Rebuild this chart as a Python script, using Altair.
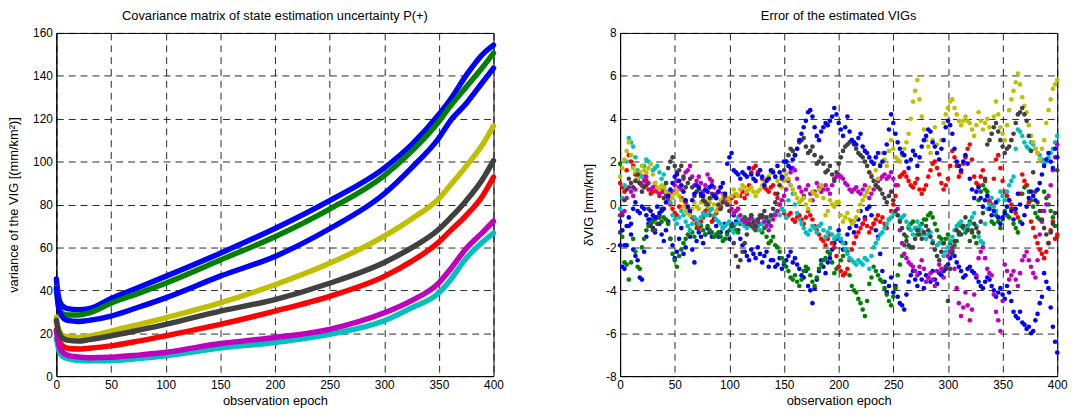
import altair as alt
import pandas as pd

FONT = "Liberation Sans"
SERIES = ["s1", "s2", "s3", "s4", "s5", "s6", "s7", "s8"]
COLORS = ["#0000FF", "#008000", "#FF0000", "#00BFBF", "#BF00BF", "#BFBF00", "#404040", "#0000FF"]

# ---------------- left panel: variance curves ----------------
var_epochs = [0, 1, 2, 5, 10, 20, 30, 50, 75, 100, 150, 200, 250, 300, 325, 350, 360, 375, 390, 400]
var_blue_top = [45.3, 40.5, 37, 33, 31.5, 31, 31.5, 36.2, 41.3, 46.5, 57.3, 68.8, 81.8, 97, 107.9, 122, 128.6, 140.2, 150, 154.3]
var_green = [41.5, 37, 33, 29.5, 28.5, 28.5, 29.5, 34, 38.6, 43.3, 54.1, 65, 77.9, 93.5, 104.8, 118.7, 125.6, 134.8, 144, 150.6]
var_blue_low = [41, 36, 32, 28, 26, 25.5, 26, 28, 32.1, 36.5, 46.6, 55.8, 68.7, 85, 97.1, 111, 118.7, 127.1, 137, 143.6]
var_yellow = [27.5, 24, 22, 19.5, 18.2, 18, 18.6, 21, 24, 27.2, 34.1, 42.6, 52.6, 65.3, 73.3, 82.8, 88.7, 97.9, 108, 116.7]
var_gray = [26, 23, 21, 18, 16.8, 16.3, 17, 18.8, 21.4, 24.1, 30.3, 35.7, 43.3, 53, 59.8, 68.5, 73.5, 81.8, 91.8, 100.5]
var_red = [21.5, 19, 17, 14.5, 13, 12.6, 13, 14.1, 16.3, 18.8, 24.1, 30.3, 37.2, 46.5, 53.5, 62.5, 67.5, 74.9, 84, 92.8]
var_magenta = [21, 18, 15, 11.5, 9.8, 8.9, 8.6, 8.8, 9.8, 11.1, 15.2, 18, 21.8, 29.5, 35.2, 43.5, 49.5, 59.5, 67, 72.2]
var_cyan = [17.5, 15, 12.5, 9.5, 8.2, 7.3, 7.1, 7.2, 8.2, 9.5, 13.1, 15.7, 19.5, 25.8, 31.8, 38.8, 44.5, 54.9, 62.5, 66.7]

var_series = {
    "s1": var_blue_top, "s2": var_green, "s3": var_red, "s4": var_cyan,
    "s5": var_magenta, "s6": var_yellow, "s7": var_gray, "s8": var_blue_low,
}

# ---------------- right panel: errors ----------------
# values at epochs 0, 4, 8, ..., 400
err_epochs = list(range(0, 401, 4))
# values at epochs 2, 6, 10, ..., 398
err_epochs_mid = list(range(2, 399, 4))

err_blue_a = [-1.9, -3.0, -1.0, -2.1, -2.6, -3.5, -1.5, -0.7, -1.3, -0.9,
              -1.7, -0.8, -1.9, -2.2, -1.1, -2.0, -1.5, -2.7, -1.3, -1.8,
              -1.1, -1.5, -1.0, -1.3, -0.9, -1.6, -0.5, -1.2, -1.9, -2.4,
              -2.1, -2.5, -2.3, -2.4, -2.9, -2.6, -2.8, -3.0, -2.6, -2.2,
              -2.5, -3.0, -3.4, -3.8, -4.6, -3.5, -2.6, -3.2, -2.5, -1.8,
              -1.2, -2.1, -1.4, -0.8, -1.0, -0.3, -0.6, -0.1, -0.9, -1.5,
              -3.1, -4.1, -3.4, -3.8, -4.6, -4.9, -3.6, -3.1, -3.8, -3.5,
              -3.3, -3.6, -3.5, -3.2, -3.1, -2.8, -2.2, -2.7, -3.1, -3.3,
              -2.9, -3.2, -3.6, -3.9, -3.4, -3.8, -4.3, -3.9, -4.4, -4.1,
              -5.0, -5.3, -5.5, -5.8, -6.0, -5.4, -4.6, -3.2, -3.9, -5.7,
              -6.9]
err_blue_a_mid = [-2.9, -1.9, -1.4, -2.4, -3.4, -2.2, -0.9, -1.1, -0.6, -1.4,
                  -1.2, -1.6, -2.5, -1.6, -2.3, -1.0, -2.1, -1.7, -1.5, -1.4,
                  -1.3, -0.7, -1.5, -1.1, -1.3, -0.9, -0.8, -1.6, -2.2, -2.6,
                  -2.3, -2.0, -2.7, -2.2, -2.6, -2.9, -2.5, -2.8, -2.4, -2.7,
                  -2.8, -3.3, -3.1, -4.0, -3.9, -3.1, -2.9, -2.7, -2.1, -1.6,
                  -1.7, -1.8, -1.1, -1.3, -0.7, -0.9, -0.2, -0.5, -1.2, -2.3,
                  -3.6, -3.8, -4.1, -4.3, -4.7, -4.2, -3.3, -3.5, -3.2, -3.9,
                  -3.4, -3.1, -3.7, -3.3, -3.0, -2.5, -2.4, -2.9, -3.4, -3.0,
                  -3.1, -3.4, -3.8, -3.6, -3.5, -4.0, -4.1, -4.2, -3.8, -4.5,
                  -5.2, -5.0, -5.6, -5.7, -5.9, -5.1, -4.3, -3.6, -4.8, -6.4]
err_blue_b = [-0.8, -1.9, -0.6, -0.2, -0.3, -0.1, -0.5, -0.3, -0.6, -0.4,
              -0.2, 0.4, 1.0, 1.4, 0.9, 0.2, -0.3, 0.5, 0.8, 0.4,
              0.6, 0.9, 0.3, 0.8, 0.5, 2.2, 1.6, 1.4, 1.5, 1.3,
              1.4, 1.1, 1.6, 0.9, 1.2, 1.5, 1.8, 1.3, 2.0, 1.7,
              2.3, 3.0, 3.6, 4.3, 4.1, 3.2, 3.4, 3.8, 3.9, 4.5,
              3.8, 3.2, 4.1, 3.0, 2.8, 3.3, 2.5, 2.2, 1.9, 2.4,
              2.0, 2.8, 4.2, 3.3, 2.6, 2.3, 1.7, 2.5, 1.8, 2.7,
              3.2, 3.4, 2.7, 2.1, 3.0, 3.9, 3.3, 2.0, 1.6, 2.3,
              1.2, 0.3, 0.8, -0.1, 0.4, -0.5, 0.1, -0.9, -0.4, 0.2,
              -0.7, 0.5, -0.9, -0.1, 0.6, 0.2, 1.0, 1.8, 2.4, 1.7,
              2.2]
err_blue_b_mid = [-1.2, -1.0, -0.9, 0.1, -0.4, -0.2, -0.7, -0.5, -0.1, -0.3,
                  0.1, 0.7, 1.3, 1.1, 0.6, -0.1, 0.2, 0.9, 0.5, 0.7,
                  0.8, 0.4, 0.6, 1.0, 1.9, 2.4, 1.5, 1.2, 1.4, 1.7,
                  1.2, 1.4, 1.3, 1.1, 1.6, 1.3, 1.5, 2.0, 1.8, 2.1,
                  2.6, 3.3, 3.9, 4.4, 3.6, 3.0, 3.6, 3.7, 4.1, 4.2,
                  3.5, 3.6, 3.4, 2.9, 3.1, 2.7, 2.4, 2.0, 2.2, 1.8,
                  2.4, 3.5, 3.8, 2.9, 2.4, 2.0, 2.1, 2.3, 2.2, 3.0,
                  3.5, 2.9, 2.4, 2.6, 3.6, 3.7, 2.6, 1.8, 2.0, 1.9,
                  0.7, 0.6, 0.3, 0.2, -0.2, -0.3, -0.6, -0.6, -0.1, -0.3,
                  -0.2, 0.0, -0.5, 0.3, 0.4, 0.7, 1.4, 2.1, 2.0, 2.6]
err_green = [1.9, -2.7, -3.5, -1.6, -2.9, -2.0, -1.2, -0.9, -0.7, -0.5,
             -0.6, -0.9, -2.3, -2.9, -2.1, -1.6, -1.2, -1.5, -0.9, -1.2,
             -1.0, -1.3, -1.4, -1.5, -1.6, -1.2, -1.0, -1.3, -0.8, -0.7,
             -1.0, -1.2, -0.9, -1.1, -1.8, -1.5, -2.0, -2.5, -2.9, -3.4,
             -3.3, -3.8, -3.1, -3.0, -3.6, -3.4, -2.8, -2.5, -2.3, -3.2,
             -2.9, -2.4, -2.2, -3.8, -4.1, -4.6, -5.2, -3.7, -2.9, -3.3,
             -3.6, -4.2, -4.7, -3.9, -2.8, -1.9, -1.1, -0.8, -1.4, -0.9,
             -0.7, -0.4, -0.9, -1.5, -1.8, -1.4, -2.1, -1.7, -1.0, -1.3,
             -0.8, -1.5, 0.2, 0.9, 0.6, -0.8, -0.5, -1.1, -0.3, -0.6,
             -0.9, -1.3, 0.5, 0.9, 0.2, -0.4, -0.7, 0.6, 0.0, -0.6,
             -1.5]
err_green_mid = [-1.5, -2.8, -2.7, -2.2, -3.0, -1.6, -1.0, -0.8, -0.6, -0.8,
                 -0.7, -1.6, -2.6, -2.4, -1.8, -1.4, -1.3, -1.1, -1.0, -1.4,
                 -1.2, -1.5, -1.3, -1.7, -1.4, -1.1, -1.2, -0.9, -0.6, -0.9,
                 -1.1, -1.0, -1.3, -1.5, -1.7, -1.9, -2.2, -2.7, -3.1, -3.5,
                 -3.6, -3.5, -2.9, -3.3, -3.8, -3.0, -2.6, -2.2, -2.7, -3.0,
                 -2.6, -2.1, -3.3, -4.0, -4.4, -4.9, -4.5, -3.4, -3.1, -3.5,
                 -3.9, -4.5, -4.3, -3.3, -2.4, -1.5, -0.9, -1.1, -1.2, -0.7,
                 -0.5, -0.6, -1.2, -1.6, -1.6, -1.8, -1.9, -1.4, -1.1, -1.0,
                 -1.2, -1.8, 0.6, 0.7, 0.1, -0.9, -0.8, -0.7, -0.5, -0.2,
                 -1.1, -0.8, 0.8, 0.6, -0.1, -0.6, -0.3, 0.3, -0.3, -1.0]
err_red = [1.0, 0.6, 2.3, 1.8, 1.2, 0.9, 1.1, 0.5, 0.8, 0.4,
           0.6, 0.2, -0.2, -0.5, 0.3, 0.1, -0.4, -0.7, -1.1, -0.6,
           -0.2, -0.8, -0.4, -0.1, 0.3, 0.1, 0.4, -0.2, 0.6, 0.5,
           1.5, 1.8, 1.6, 0.8, 0.6, 0.9, 0.3, -0.2, -0.6, -0.4,
           -0.8, -0.5, -0.9, -0.3, -0.7, -1.2, -1.6, -1.9, -1.4, -2.0,
           -2.9, -3.3, -3.0, -2.1, -1.5, -1.1, -0.7, -1.3, -0.9, -0.5,
           -0.6, -1.1, -0.3, 0.4, 1.3, 1.5, 1.1, 0.8, 1.2, 0.5,
           0.9, 1.6, 2.0, 1.4, 0.7, 1.2, 2.5, 1.8, 1.5, 2.2,
           2.8, 1.3, 0.9, 1.6, 0.4, 0.0, 2.1, 1.7, 0.6, 0.2,
           -0.2, -0.6, 1.4, 0.9, -0.8, -1.5, -2.1, -2.5, -1.8, -0.8,
           -1.4]
err_red_mid = [0.8, 1.6, 2.0, 1.4, 1.0, 1.3, 0.7, 0.6, 0.6, 0.7,
               0.4, 0.0, -0.4, -0.1, 0.2, -0.2, -0.6, -0.9, -0.8, -0.3,
               -0.5, -0.6, -0.2, 0.2, 0.0, 0.3, 0.1, 0.4, 0.3, 0.9,
               1.7, 1.5, 1.2, 0.7, 0.8, 0.5, 0.0, -0.4, -0.5, -0.7,
               -0.6, -0.7, -0.6, -0.5, -1.0, -1.4, -1.7, -1.6, -1.8, -2.4,
               -3.1, -3.2, -2.6, -1.8, -1.3, -0.9, -1.0, -1.1, -0.7, -0.8,
               -0.9, -0.7, 0.0, 0.9, 1.4, 1.3, 0.9, 1.0, 0.7, 0.7,
               1.3, 1.9, 1.7, 1.0, 0.9, 1.8, 2.2, 1.3, 1.9, 2.6,
               2.1, 1.0, 1.3, 1.1, 0.2, 1.2, 2.3, 1.1, 0.4, 0.0,
               -0.4, 0.5, 1.1, 0.1, -1.1, -1.8, -2.3, -2.2, -1.2, -1.6]
err_cyan = [-0.2, 0.9, 3.1, 2.7, 1.6, 1.3, 2.1, 1.9, 1.7, 1.5,
            1.4, 0.6, -0.5, -0.9, -0.3, -0.8, -1.2, -0.6, -0.9, -0.4,
            -0.5, -0.2, -0.7, -0.9, -1.0, -0.8, -1.3, -0.6, -0.9, -1.1,
            -0.5, -0.8, -1.2, -0.6, -0.9, -0.5, -0.3, -0.2, -0.6, 0.9,
            0.0, -0.7, -1.1, -1.4, -1.0, -1.3, -0.9, -1.5, -1.1, -1.6,
            -1.4, -1.8, -2.3, -2.6, -2.8, -2.7, -2.5, -3.0, -2.0, -1.6,
            -1.3, -0.9, -0.6, -0.3, -0.7, -0.5, -1.0, -1.4, -0.8, -1.2,
            -1.6, -1.3, -2.1, -1.8, -2.4, -2.0, -1.5, -1.0, -0.8, -1.2,
            -0.9, -0.4, -1.5, -1.8, -0.2, 0.3, -0.3, 0.6, 0.2, 0.9,
            1.3, 3.5, 3.2, 2.7, 2.9, 2.6, 2.3, 1.9, 2.2, 2.6,
            3.2]
err_cyan_mid = [0.3, 2.0, 2.9, 2.2, 1.4, 1.8, 2.0, 1.6, 1.8, 1.2,
                1.0, 0.1, -0.7, -0.6, -0.5, -1.0, -0.9, -0.7, -0.6, -0.5,
                -0.3, -0.5, -0.8, -1.1, -0.9, -1.1, -0.9, -0.8, -1.0, -0.7,
                -0.7, -1.0, -0.9, -0.8, -0.6, -0.4, -0.5, -0.3, 0.2, 0.5,
                -0.4, -0.9, -1.3, -1.2, -1.1, -1.0, -1.2, -1.3, -1.4, -1.5,
                -1.6, -2.1, -2.5, -2.7, -2.6, -2.8, -2.6, -2.4, -1.8, -1.4,
                -1.1, -0.7, -0.4, -0.5, -0.6, -0.8, -1.2, -1.1, -1.0, -1.4,
                -1.4, -1.7, -1.9, -2.2, -2.2, -1.7, -1.2, -0.9, -1.0, -1.1,
                -0.6, -1.0, -1.7, -0.9, 0.0, -0.1, 0.2, 0.4, 0.6, 1.1,
                2.6, 3.4, 2.9, 2.6, 2.8, 2.4, 2.1, 2.0, 2.4, 2.9]
err_magenta = [-0.5, -0.3, 0.8, 0.4, 1.1, 0.9, 1.3, 0.7, 1.0, 0.5,
               0.8, 0.3, 0.6, 1.1, 0.7, 1.5, 1.8, 0.9, 1.3, 0.6,
               1.4, 1.1, 0.5, 0.8, 0.3, 0.0, -0.4, -0.2, -0.7, -0.9,
               -0.6, -1.1, -0.5, -0.8, -1.2, -0.7, -0.3, 0.2, 0.7, 1.5,
               1.6, 0.8, 0.4, 0.9, 0.2, 1.0, 0.6, 0.9, 0.5, 1.2,
               1.4, 1.2, 0.9, 0.6, 0.8, 0.5, 0.9, 0.3, 0.7, 1.1,
               1.3, 1.2, 1.5, 0.9, -1.2, -2.3, -2.7, -2.9, -3.3, -2.6,
               -3.6, -3.2, -3.8, -2.8, -3.4, -2.4, -2.0, -3.9, -5.2, -4.1,
               -5.4, -4.2, -2.5, -2.0, -3.0, -3.3, -5.0, -5.9, -2.8, -3.5,
               -3.1, -3.8, -2.6, -2.2, -2.9, -3.4, -1.4, -0.3, 0.4, 1.6,
               2.8]
err_magenta_mid = [-0.4, 0.3, 0.6, 0.7, 1.0, 1.1, 1.0, 0.8, 0.7, 0.6,
                   0.5, 0.5, 0.9, 0.8, 1.2, 1.6, 1.3, 1.1, 1.0, 0.9,
                   1.2, 0.8, 0.6, 0.5, 0.1, -0.2, -0.3, -0.5, -0.8, -0.7,
                   -0.9, -0.8, -0.6, -1.0, -1.0, -0.5, 0.0, 0.4, 1.1, 1.7,
                   1.2, 0.6, 0.7, 0.5, 0.6, 0.8, 0.7, 0.7, 0.9, 1.3,
                   1.3, 1.0, 0.7, 0.7, 0.6, 0.7, 0.6, 0.5, 0.9, 1.2,
                   1.4, 1.3, 1.2, -0.2, -1.8, -2.5, -2.8, -3.1, -2.9, -3.0,
                   -3.4, -3.5, -3.1, -3.0, -2.9, -2.2, -3.0, -4.6, -4.8, -4.7,
                   -4.9, -3.3, -2.2, -2.5, -3.2, -4.2, -5.4, -4.5, -3.1, -3.3,
                   -3.5, -3.2, -2.4, -2.6, -3.2, -2.6, -0.8, 0.0, 0.9, 2.2]
err_yellow = [1.3, 2.1, 2.9, 1.7, 1.2, 1.8, 1.5, 1.9, 1.0, 0.7,
              0.8, 0.5, 0.3, 0.6, 0.2, -0.3, -0.5, 0.1, -0.2, 0.4,
              -0.1, 0.3, -0.3, 0.2, 0.5, 0.1, 0.7, 0.4, 0.9, 0.6,
              0.8, 0.4, 0.7, 1.0, 1.3, 1.6, 1.1, 0.8, 1.4, 0.9,
              0.5, 0.1, 0.3, -0.2, 0.6, 0.4, 0.9, -0.5, 0.2, -0.1,
              0.1, -0.8, -0.4, -0.9, -0.6, 0.0, 0.4, 0.8, 1.9, 1.2,
              2.4, 1.8, 3.0, 2.2, 2.0, 2.6, 3.3, 4.8, 5.8, 4.1,
              3.0, 2.4, 3.6, 2.1, 3.8, 4.5, 4.9, 4.2, 3.7, 4.1,
              3.8, 3.2, 4.3, 3.5, 4.0, 3.3, 4.8, 3.6, 3.0, 4.4,
              5.3, 6.1, 5.0, 4.3, 3.2, 2.6, 2.1, 3.0, 4.4, 5.4,
              5.8]
err_yellow_mid = [1.7, 2.5, 2.3, 1.5, 1.5, 1.6, 1.7, 1.4, 0.8, 0.9,
                  0.6, 0.4, 0.5, 0.4, -0.1, -0.4, -0.2, -0.1, 0.1, 0.2,
                  0.1, 0.0, -0.1, 0.4, 0.3, 0.4, 0.5, 0.7, 0.8, 0.7,
                  0.6, 0.6, 0.9, 1.2, 1.5, 1.3, 0.9, 1.1, 1.2, 0.7,
                  0.3, 0.2, 0.0, 0.2, 0.5, 0.7, 0.3, -0.3, 0.0, 0.1,
                  -0.5, -0.6, -0.7, -0.8, -0.3, 0.2, 0.6, 1.4, 1.6, 1.9,
                  2.1, 2.5, 2.6, 2.1, 2.3, 2.9, 4.0, 5.3, 4.9, 3.5,
                  2.7, 3.0, 2.8, 3.0, 4.2, 4.8, 4.5, 3.9, 3.9, 3.9,
                  3.5, 3.7, 3.9, 3.8, 3.6, 4.1, 4.2, 3.3, 3.7, 4.9,
                  5.7, 5.6, 4.6, 3.7, 2.9, 2.4, 2.6, 3.8, 4.9, 5.6]
err_gray = [-1.3, 0.2, 1.2, 0.8, 1.4, 0.6, 0.9, -1.0, -1.2, -0.6,
            0.3, 1.7, 2.2, 1.5, 1.8, 0.8, 1.2, 0.4, 0.7, 0.2,
            0.0, 0.5, 0.3, -0.2, 0.4, -0.3, -1.8, -2.9, -2.2, -1.4,
            -0.5, -1.0, -0.6, -0.3, -0.8, -0.2, 0.5, 1.2, 2.0, 2.6,
            2.3, 2.9, 3.1, 2.4, 2.7, 1.9, 2.2, 1.5, 1.8, 1.1,
            1.9, 2.5, 2.8, 3.0, 2.6, 2.3, 2.0, 1.5, 1.1, 0.8,
            0.5, 0.1, 0.6, -0.3, -0.8, -1.4, -1.9, -2.0, -1.2, -1.6,
            -1.0, -1.5, -2.1, -2.6, -1.8, -4.5, -2.3, -1.2, -1.4, -0.6,
            -1.7, -0.9, -1.3, -0.4, 2.8, 3.3, 3.8, 3.0, 2.4, 2.7,
            3.3, 4.2, 4.5, 3.9, 2.5, 0.6, -0.3, -1.1, -1.8, -0.9,
            1.6]
err_gray_mid = [-0.5, 0.7, 1.0, 1.1, 1.0, 0.8, -0.2, -1.2, -0.9, -0.2,
                1.0, 2.0, 1.8, 1.6, 1.3, 1.0, 0.8, 0.6, 0.4, 0.1,
                0.3, 0.4, 0.0, 0.1, 0.0, -1.0, -2.4, -2.6, -1.8, -0.9,
                -0.8, -0.7, -0.5, -0.6, -0.5, 0.1, 0.9, 1.6, 2.3, 2.5,
                2.6, 3.0, 2.7, 2.5, 2.3, 2.0, 1.9, 1.6, 1.4, 1.5,
                2.2, 2.7, 2.9, 2.8, 2.4, 2.2, 1.8, 1.3, 0.9, 0.7,
                0.3, 0.4, 0.2, -0.5, -1.1, -1.7, -2.0, -1.6, -1.4, -1.3,
                -1.2, -1.8, -2.4, -2.2, -2.9, -3.0, -1.7, -1.3, -1.0, -1.2,
                -1.3, -1.1, -0.8, 1.2, 3.0, 3.6, 3.4, 2.7, 2.6, 3.0,
                3.8, 4.3, 4.2, 3.2, 1.5, 0.1, -0.7, -1.4, -1.3, -0.4]

err_series = {
    "s1": (err_blue_a, err_blue_a_mid), "s2": (err_green, err_green_mid),
    "s3": (err_red, err_red_mid), "s4": (err_cyan, err_cyan_mid),
    "s5": (err_magenta, err_magenta_mid), "s6": (err_yellow, err_yellow_mid),
    "s7": (err_gray, err_gray_mid), "s8": (err_blue_b, err_blue_b_mid),
}

var_rows = []
for s in SERIES:
    for e, v in zip(var_epochs, var_series[s]):
        var_rows.append({"series": s, "epoch": e, "value": v})
df_var = pd.DataFrame(var_rows)

err_rows = []
for s in SERIES:
    main_vals, mid_vals = err_series[s]
    pts = list(zip(err_epochs, main_vals)) + list(zip(err_epochs_mid, mid_vals))
    pts.sort()
    for e, v in pts:
        err_rows.append({"series": s, "epoch": e, "value": v})
df_err = pd.DataFrame(err_rows)

color = alt.Color("series:N", scale=alt.Scale(domain=SERIES, range=COLORS), legend=None, sort=SERIES)


def x_enc():
    return alt.X(
        "epoch:Q",
        scale=alt.Scale(domain=[0, 400], nice=False, zero=False, padding=0),
        axis=alt.Axis(values=list(range(0, 401, 50)), title="observation epoch",
                      titlePadding=4, labelFlush=False),
    )


left = alt.Chart(df_var).mark_line(
    strokeWidth=5.5, interpolate="monotone", strokeCap="round", strokeJoin="round"
).encode(
    x=x_enc(),
    y=alt.Y("value:Q", scale=alt.Scale(domain=[0, 160], nice=False, padding=0),
            axis=alt.Axis(values=list(range(0, 161, 20)), labelFlush=False,
                          title="variance of the VIG [(mm/km²)]", titlePadding=12)),
    color=color,
).properties(
    width=442, height=347,
    title=alt.TitleParams("Covariance matrix of state estimation uncertainty P(+)", offset=4),
)

right = alt.Chart(df_err).mark_circle(size=22, opacity=1).encode(
    x=x_enc(),
    y=alt.Y("value:Q", scale=alt.Scale(domain=[-8, 8], nice=False, padding=0),
            axis=alt.Axis(values=list(range(-8, 9, 2)), labelExpr="'' + datum.value",
                          labelFlush=False, title="δVIG [mm/km]", titlePadding=10)),
    color=color,
).properties(
    width=442, height=347,
    title=alt.TitleParams("Error of the estimated VIGs", offset=4),
)

chart = alt.hconcat(left, right, spacing=128, bounds="flush").resolve_scale(
    x="independent", y="independent", color="shared"
).properties(
    padding={"left": 7, "top": 7, "right": 11, "bottom": 2},
    background="white",
).configure_view(
    stroke="black", strokeWidth=1
).configure_axis(
    labelFont=FONT, titleFont=FONT, labelFontSize=12, titleFontSize=13,
    labelColor="black", titleColor="black", titleFontWeight="normal",
    domainColor="black", domainWidth=1, ticks=False, labelPadding=4,
    grid=True, gridColor="black", gridDash=[7, 5], gridWidth=1, gridOpacity=0.85,
).configure_title(
    font=FONT, fontSize=13, fontWeight="normal", color="black", anchor="middle",
)

chart.save("out.html", embed_options={"renderer": "svg", "actions": False})
